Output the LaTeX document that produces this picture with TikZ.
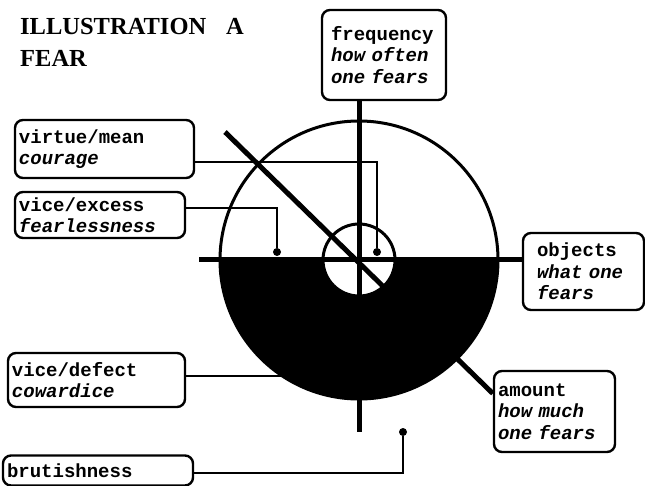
\documentclass[tikz,border=0pt]{standalone}
\usepackage{fontspec}
\setmonofont{Liberation Mono}
\newfontfamily\titlefont{Liberation Serif}
\tikzset{
	lbl_box/.style = {draw, line width=2.4pt, rounded corners=8pt, inner xsep=4pt,
		inner ysep=2pt, align=left,
		font=\ttfamily\bfseries\fontsize{19}{21.5}\selectfont},
	lbl_head/.style = {inner sep=0pt, anchor=base west,
		font=\titlefont\bfseries\fontsize{24.5}{28}\selectfont},
	axis_l/.style = {line width=5pt},% axe epais
	wire_l/.style = {line width=2pt},% ligne de rappel
	dot_n/.style = {circle, fill=black, inner sep=0pt, minimum size=8pt}
}
\begin{document}
\begin{tikzpicture}[x=1pt,y=-1pt]
	\useasboundingbox (0,0) rectangle (645,486);
	\coordinate (c) at (359,260);
	% demi-disque noir
	\begin{scope}
		\clip (200,260) rectangle (520,420);
		\fill (c) circle[radius=139pt];
		\fill[white] (c) circle[radius=36pt];
	\end{scope}
	\draw[line width=3pt] (c) circle[radius=139pt];
	\draw[line width=3pt] (c) circle[radius=36pt];
	
	\node[lbl_head] (title1) at (20,35) {ILLUSTRATION\hspace{20pt}A};
	\node[lbl_head] (title2) at (20,67) {FEAR};
	
	\node[lbl_box, inner xsep=9pt, text width=106pt, minimum height=90pt] (freq) at (384,55)
		{frequency\\\itshape how often\\\itshape one fears};
	\node[lbl_box, text width=171pt, minimum height=58pt] (virtue) at (104.5,149)
		{virtue/mean\\\itshape courage};
	\node[lbl_box, text width=162pt, minimum height=46pt] (excess) at (100,215)
		{vice/excess\\\itshape fearlessness};
	\node[lbl_box, inner xsep=14pt, text width=93pt, minimum height=77pt] (obj) at (583.5,271.5)
		{objects\\\itshape what one\\\itshape fears};
	\node[lbl_box, text width=113pt, minimum height=81pt] (amt) at (554.5,411.5)
		{amount\\\itshape how much\\\itshape one fears};
	\node[lbl_box, text width=169pt, minimum height=54pt] (defect) at (96.5,380)
		{vice/defect\\\itshape cowardice};
	\node[lbl_box, text width=182pt, minimum height=30pt] (brut) at (98,470.5)
		{brutishness};
	
	\node[dot_n] (vdot) at (377,252) {};
	\node[dot_n] (edot) at (277,252) {};
	\node[dot_n] (bdot) at (403,432) {};
	
	% axes
	\coordinate (hl) at (199,260);
	\coordinate (vb) at (359,432);
	\coordinate (dl) at (225,132);
	\draw[axis_l] (hl) -- (c -| obj.west);
	\draw[axis_l] (freq.south -| c) -- (vb);
	\draw[axis_l] (dl) -- ([yshift=18pt]amt.west);
	
	% lignes de rappel
	\coordinate (dend) at (290,376);
	\draw[wire_l] ([yshift=-13pt]virtue.east) -| (vdot);
	\draw[wire_l] ([yshift=7pt]excess.east) -| (edot);
	\draw[wire_l] ([yshift=4pt]defect.east) -- (dend);
	\draw[wire_l] ([yshift=-2.5pt]brut.east) -| (bdot);
\end{tikzpicture}
\end{document}
